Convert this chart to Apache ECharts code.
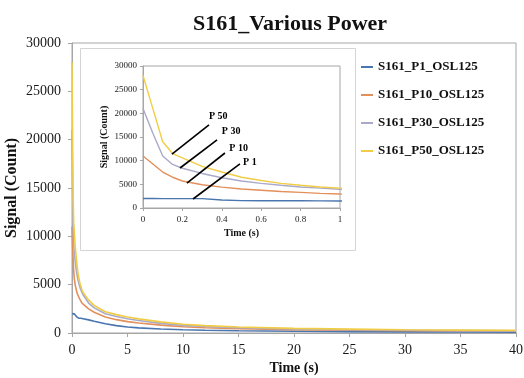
<!DOCTYPE html>
<html>
<head>
<meta charset="utf-8">
<script src="https://cdn.jsdelivr.net/npm/echarts@6/dist/echarts.min.js"></script>
<style>html,body{margin:0;padding:0;background:#fff}#c{width:524px;height:378px}</style>
</head>
<body>
<div id="c"></div>
<script>
const time = [0, 0.05, 0.1, 0.15, 0.2, 0.3, 0.4, 0.5, 0.6, 0.7, 0.8, 0.9, 1.0, 1.5, 2, 3, 4, 5, 6, 8, 10, 12, 15, 20, 25, 30, 35, 40];
const p1  = [2000, 2000, 1990, 1980, 1980, 1990, 1700, 1560, 1540, 1530, 1520, 1500, 1480, 1360, 1220, 950, 760, 620, 530, 420, 340, 290, 230, 180, 140, 120, 100, 90];
const p10 = [11000, 9300, 7600, 6500, 5700, 4900, 4400, 4000, 3750, 3500, 3300, 3100, 2950, 2500, 2150, 1650, 1380, 1180, 1040, 810, 650, 550, 450, 340, 280, 240, 210, 190];
const p30 = [21000, 15800, 11000, 9200, 8400, 7300, 6400, 5700, 5200, 4800, 4450, 4200, 3950, 3100, 2600, 2000, 1700, 1480, 1300, 1000, 790, 670, 540, 410, 340, 290, 250, 220];
const p50 = [28000, 21000, 14000, 11500, 10600, 8800, 7600, 6500, 5800, 5200, 4800, 4450, 4200, 3400, 2850, 2200, 1900, 1660, 1460, 1150, 900, 760, 620, 480, 400, 340, 300, 270];
const seriesNames = ['S161_P1_OSL125', 'S161_P10_OSL125', 'S161_P30_OSL125', 'S161_P50_OSL125'];
const seriesColors = ['#4a76b0', '#e3905a', '#a9a9c9', '#f1cd45'];
const seriesValues = [p1, p10, p30, p50];
const mainXTicks = {min: 0, max: 40, interval: 5};
const mainYTicks = {min: 0, max: 30000, interval: 5000};
const insetXTicks = {min: 0, max: 1, interval: 0.2};
const insetYTicks = {min: 0, max: 30000, interval: 5000};
// callouts: line start (x,y), line end (x,y), text anchor (x,y), label
const calloutLabels = ['P 50', 'P 30', 'P 10', 'P 1'];
const calloutStart = [[0.147, 11400], [0.188, 8450], [0.223, 5280], [0.254, 1900]];
const calloutEnd = [[0.335, 17540], [0.376, 14370], [0.416, 11620], [0.492, 9300]];
const calloutText = [[0.335, 19300], [0.40, 16100], [0.438, 12550], [0.508, 9700]];

const FONT = '"Liberation Serif","Times New Roman",serif';
const chart = echarts.init(document.getElementById('c'), null, {renderer: 'canvas'});

function pairs(vals) { return time.map((t, i) => [t, vals[i]]); }
const plain = v => String(Math.round(v * 1000) / 1000);

const series = [];
seriesValues.forEach((vals, i) => {
  series.push({
    name: seriesNames[i], type: 'line', xAxisIndex: 0, yAxisIndex: 0,
    data: pairs(vals), showSymbol: false, symbol: 'none',
    lineStyle: {color: seriesColors[i], width: 1.6}, itemStyle: {color: seriesColors[i]},
    z: 2, animation: false
  });
});
seriesValues.forEach((vals, i) => {
  series.push({
    name: seriesNames[i], type: 'line', xAxisIndex: 1, yAxisIndex: 1,
    data: pairs(vals), showSymbol: false, symbol: 'none', clip: true,
    lineStyle: {color: seriesColors[i], width: 1.4}, itemStyle: {color: seriesColors[i]},
    z: 8, animation: false
  });
});
series.push({
  type: 'custom', xAxisIndex: 1, yAxisIndex: 1, z: 9, animation: false, silent: true,
  data: calloutLabels.map((l, i) => [calloutStart[i][0], calloutStart[i][1], calloutEnd[i][0], calloutEnd[i][1], calloutText[i][0], calloutText[i][1]]),
  renderItem: function (params, api) {
    const a = api.coord([api.value(0), api.value(1)]);
    const b = api.coord([api.value(2), api.value(3)]);
    const t = api.coord([api.value(4), api.value(5)]);
    return {
      type: 'group',
      children: [
        {type: 'line', shape: {x1: a[0], y1: a[1], x2: b[0], y2: b[1]}, style: {stroke: '#000', lineWidth: 1.6}},
        {type: 'text', x: t[0], y: t[1], style: {text: calloutLabels[params.dataIndex], fill: '#000', font: 'bold 10px ' + FONT, textAlign: 'left', textVerticalAlign: 'middle'}}
      ]
    };
  }
});

const labelStyle = {color: '#1a1a1a', fontFamily: FONT, formatter: plain};
chart.setOption({
  animation: false,
  backgroundColor: '#fff',
  title: {text: 'S161_Various Power', left: 188, top: 8, textStyle: {fontFamily: FONT, fontWeight: 'bold', fontSize: 22, color: '#111'}},
  legend: {
    orient: 'vertical', left: 356, top: 55, itemWidth: 12, itemHeight: 2, icon: 'rect', itemGap: 14,
    data: seriesNames,
    textStyle: {fontFamily: FONT, fontWeight: 'bold', fontSize: 13, lineHeight: 14, color: '#111'}
  },
  grid: [
    {left: 72, top: 43, right: 8, bottom: 45, show: true, borderColor: '#a6a6a6', borderWidth: 1, containLabel: false, outerBoundsMode: 'none'},
    {left: 143, top: 66, width: 197, height: 142, show: true, borderColor: '#a6a6a6', borderWidth: 1, z: 6, containLabel: false, outerBoundsMode: 'none'}
  ],
  graphic: [
    {type: 'rect', shape: {x: 80.5, y: 48.5, width: 275, height: 202}, style: {fill: '#fff', stroke: '#d4d4d4', lineWidth: 1}, z: 5, silent: true}
  ],
  xAxis: [
    {type: 'value', gridIndex: 0, min: mainXTicks.min, max: mainXTicks.max, interval: mainXTicks.interval,
      name: 'Time (s)', nameLocation: 'middle', nameGap: 28, nameMoveOverlap: false,
      nameTextStyle: {fontFamily: FONT, fontWeight: 'bold', fontSize: 14, color: '#111'},
      axisLine: {lineStyle: {color: '#a6a6a6'}}, axisTick: {show: true, length: 4, lineStyle: {color: '#a6a6a6'}},
      axisLabel: Object.assign({fontSize: 14, margin: 10}, labelStyle), splitLine: {show: false}},
    {type: 'value', gridIndex: 1, min: insetXTicks.min, max: insetXTicks.max, interval: insetXTicks.interval, z: 7,
      name: 'Time (s)', nameLocation: 'middle', nameGap: 20, nameMoveOverlap: false,
      nameTextStyle: {fontFamily: FONT, fontWeight: 'bold', fontSize: 10, color: '#111'},
      axisLine: {lineStyle: {color: '#a6a6a6'}}, axisTick: {show: true, length: 3, lineStyle: {color: '#a6a6a6'}},
      axisLabel: Object.assign({fontSize: 9, margin: 7}, labelStyle), splitLine: {show: false}}
  ],
  yAxis: [
    {type: 'value', gridIndex: 0, min: mainYTicks.min, max: mainYTicks.max, interval: mainYTicks.interval,
      name: 'Signal (Count)', nameLocation: 'middle', nameGap: 52, nameMoveOverlap: false,
      nameTextStyle: {fontFamily: FONT, fontWeight: 'bold', fontSize: 16, color: '#111'},
      axisLine: {show: true, lineStyle: {color: '#a6a6a6'}}, axisTick: {show: true, length: 4, lineStyle: {color: '#a6a6a6'}},
      axisLabel: Object.assign({fontSize: 14, margin: 11}, labelStyle), splitLine: {show: false}},
    {type: 'value', gridIndex: 1, min: insetYTicks.min, max: insetYTicks.max, interval: insetYTicks.interval, z: 7,
      name: 'Signal (Count)', nameLocation: 'middle', nameGap: 34, nameMoveOverlap: false,
      nameTextStyle: {fontFamily: FONT, fontWeight: 'bold', fontSize: 10, color: '#111'},
      axisLine: {show: true, lineStyle: {color: '#a6a6a6'}}, axisTick: {show: true, length: 3, lineStyle: {color: '#a6a6a6'}},
      axisLabel: Object.assign({fontSize: 9, margin: 6}, labelStyle), splitLine: {show: false}}
  ],
  series: series
});
</script>
</body>
</html>
